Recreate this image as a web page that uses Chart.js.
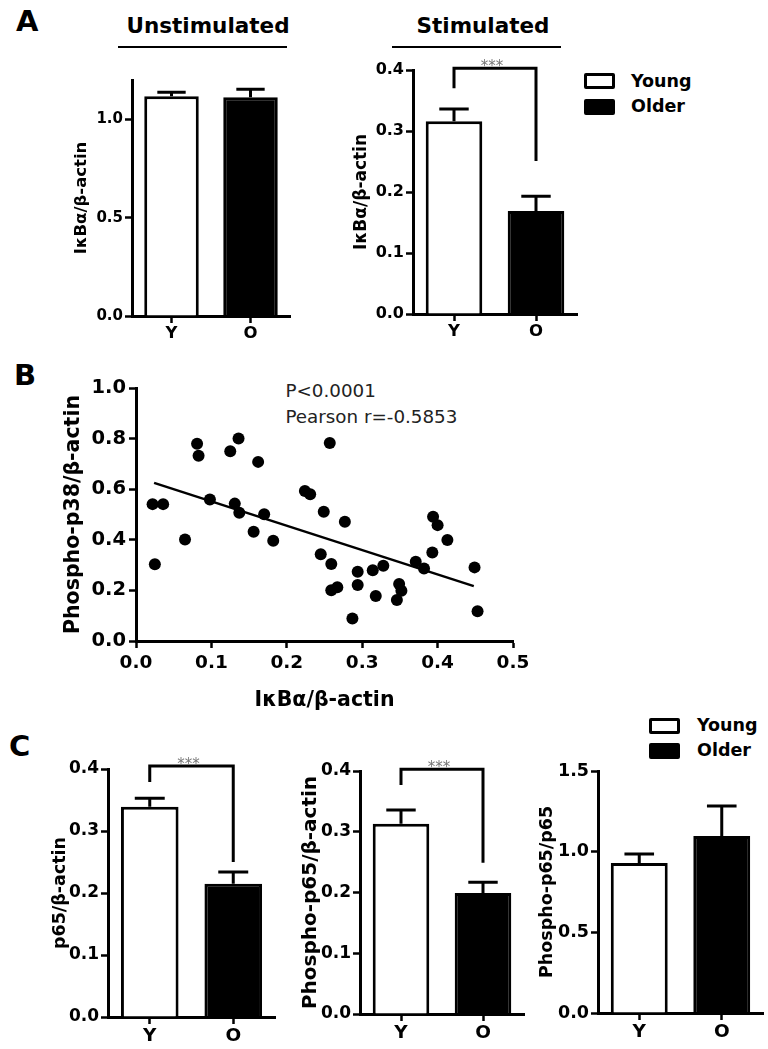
<!DOCTYPE html>
<html>
<head>
<meta charset="utf-8">
<script src="https://cdn.jsdelivr.net/npm/chart.js@4.4.1/dist/chart.umd.min.js"></script>
<style>
html, body { margin: 0; padding: 0; background: #fff; }
#page { position: relative; width: 768px; height: 1049px; overflow: hidden; font-family: 'DejaVu Sans', sans-serif; color: #000; }
.box { position: absolute; }
.letter { position: absolute; font-weight: bold; font-size: 29px; line-height: 1; }
.cond { position: absolute; font-weight: bold; font-size: 21.5px; line-height: 1; transform: translateX(-50%); white-space: nowrap; }
.rule { position: absolute; height: 0; border-top: 2.5px solid #000; }
.swatch { position: absolute; width: 31px; height: 16px; box-sizing: border-box; border: 3px solid #000; border-radius: 2px; }
.legtext { position: absolute; font-weight: bold; font-size: 17.5px; line-height: 1; }
.stat { position: absolute; font-size: 18.3px; line-height: 26px; color: #222; white-space: nowrap; }
</style>
</head>
<body>
<div id="page">
  <div class="letter" style="left:16px; top:7px;">A</div>
  <div class="letter" style="left:14px; top:361px;">B</div>
  <div class="letter" style="left:9px; top:732px;">C</div>

  <div class="cond" style="left:208px; top:14.5px;">Unstimulated</div>
  <div class="rule" style="left:118px; width:169px; top:46px;"></div>
  <div class="cond" style="left:483px; top:14.5px;">Stimulated</div>
  <div class="rule" style="left:392px; width:169px; top:46px;"></div>

  <div class="swatch" style="left:584px; top:73px; background:#fff;"></div>
  <div class="legtext" style="left:631px; top:72.5px;">Young</div>
  <div class="swatch" style="left:584px; top:99px; background:#000;"></div>
  <div class="legtext" style="left:631px; top:98px;">Older</div>

  <div class="swatch" style="left:649px; top:718px; background:#fff;"></div>
  <div class="legtext" style="left:697px; top:717px;">Young</div>
  <div class="swatch" style="left:649px; top:743px; background:#000;"></div>
  <div class="legtext" style="left:697px; top:742px;">Older</div>

  <div class="stat" style="left:285.5px; top:377.5px;">P&lt;0.0001<br>Pearson r=-0.5853</div>

  <div class="box" id="wrapA1"><canvas id="chartA1"></canvas></div>
  <div class="box" id="wrapA2"><canvas id="chartA2"></canvas></div>
  <div class="box" id="wrapB"><canvas id="chartB"></canvas></div>
  <div class="box" id="wrapC1"><canvas id="chartC1"></canvas></div>
  <div class="box" id="wrapC2"><canvas id="chartC2"></canvas></div>
  <div class="box" id="wrapC3"><canvas id="chartC3"></canvas></div>
</div>

<script>
// ─── Data ─────────────────────────────────────────────

const groups  = ['Y', 'O'];
const barFill = ['#ffffff', '#000000'];

const unstimMeans = [1.117, 1.112];
const unstimErrs  = [0.021, 0.041];

const stimMeans   = [0.316, 0.169];
const stimErrs    = [0.020, 0.024];
const stimBracket = [0.403, 0.370, 0.251];   // top, left leg end, right leg end

const p65Means    = [0.339, 0.215];
const p65Errs     = [0.014, 0.019];
const p65Bracket  = [0.405, 0.379, 0.250];

const pp65Means   = [0.313, 0.199];
const pp65Errs    = [0.023, 0.018];
const pp65Bracket = [0.403, 0.377, 0.249];

const ratioMeans  = [0.930, 1.097];
const ratioErrs   = [0.056, 0.186];

// IκBα vs phospho-p38 scatter
const ikbaX = [0.022, 0.036, 0.025, 0.065, 0.081, 0.083, 0.098, 0.125, 0.136, 0.131,
               0.137, 0.162, 0.156, 0.170, 0.182, 0.224, 0.231, 0.257, 0.249, 0.277,
               0.245, 0.259, 0.259, 0.267, 0.287, 0.294, 0.294, 0.314, 0.328, 0.318,
               0.349, 0.352, 0.346, 0.371, 0.382, 0.393, 0.394, 0.400, 0.413, 0.449, 0.453];
const p38Y  = [0.541, 0.541, 0.303, 0.401, 0.780, 0.732, 0.559, 0.750, 0.800, 0.543,
               0.507, 0.708, 0.432, 0.501, 0.396, 0.593, 0.580, 0.783, 0.511, 0.471,
               0.343, 0.304, 0.201, 0.212, 0.089, 0.274, 0.221, 0.280, 0.297, 0.178,
               0.225, 0.199, 0.162, 0.313, 0.287, 0.350, 0.491, 0.458, 0.399, 0.291, 0.118];
const fitX  = [0.024, 0.448];
const fitY  = [0.625, 0.217];

// ─── Plugins ──────────────────────────────────────────

const errorBarPlugin = {
    id: 'errorBars',
    afterDatasetsDraw(chart, args, opts) {
        if (!opts.values) return;
        const meta = chart.getDatasetMeta(0);
        const y = chart.scales.y;
        const ctx = chart.ctx;
        ctx.save();
        ctx.strokeStyle = '#000';
        ctx.lineWidth = 3;
        meta.data.forEach((bar, i) => {
            const v = chart.data.datasets[0].data[i];
            const top = y.getPixelForValue(v + opts.values[i]);
            const half = bar.width * 0.26;
            ctx.beginPath();
            ctx.moveTo(bar.x, bar.y);
            ctx.lineTo(bar.x, top);
            ctx.moveTo(bar.x - half, top);
            ctx.lineTo(bar.x + half, top);
            ctx.stroke();
        });
        ctx.restore();
    },
};

const bracketPlugin = {
    id: 'sigBracket',
    afterDatasetsDraw(chart, args, opts) {
        if (!opts.levels) return;
        const [topV, leftV, rightV] = opts.levels;
        const meta = chart.getDatasetMeta(0);
        const y = chart.scales.y;
        const x1 = meta.data[0].x, x2 = meta.data[1].x;
        const yt = y.getPixelForValue(topV);
        const ctx = chart.ctx;
        ctx.save();
        ctx.strokeStyle = '#000';
        ctx.lineWidth = 3;
        ctx.beginPath();
        ctx.moveTo(x1, y.getPixelForValue(leftV));
        ctx.lineTo(x1, yt);
        ctx.lineTo(x2, yt);
        ctx.lineTo(x2, y.getPixelForValue(rightV));
        ctx.stroke();
        ctx.fillStyle = '#777';
        ctx.font = '15px "DejaVu Sans"';
        ctx.textAlign = 'center';
        ctx.textBaseline = 'alphabetic';
        ctx.fillText('***', (x1 + x2) / 2 - 3, yt + 3);
        ctx.restore();
    },
};

// ─── Helpers ──────────────────────────────────────────

function place(wrapId, box) {
    const w = document.getElementById(wrapId);
    w.style.left = box.left + 'px';
    w.style.top = box.top + 'px';
    w.style.width = box.width + 'px';
    w.style.height = box.height + 'px';
}

function axisBase(tickSize) {
    return {
        grid:   { display: true, drawOnChartArea: false, drawTicks: true, tickLength: 7, tickWidth: 2.5, color: '#000' },
        border: { display: true, width: 3, color: '#000' },
        ticks:  { color: '#000', padding: 2, font: { family: "'DejaVu Sans'", weight: 'bold', size: tickSize } },
    };
}

function barChart(spec) {
    const { id, box, area } = spec;
    place('wrap' + id, box);
    const titleLh = spec.titleSize * 1.2;
    const yAxis = axisBase(spec.yTickSize);
    const xAxis = axisBase(spec.xTickSize);

    return new Chart(document.getElementById('chart' + id), {
        type: 'bar',
        data: {
            labels: groups,
            datasets: [{
                data: spec.means,
                backgroundColor: barFill,
                borderColor: '#000',
                borderWidth: 3,
                borderSkipped: 'start',
                barPercentage: 0.69,
                categoryPercentage: 1,
            }],
        },
        plugins: [errorBarPlugin, bracketPlugin],
        options: {
            responsive: true,
            maintainAspectRatio: false,
            animation: false,
            layout: { padding: { left: 0, bottom: 0, top: area.top - box.top, right: box.left + box.width - area.right } },
            plugins: {
                legend: { display: false },
                tooltip: { enabled: false },
                errorBars: { values: spec.errs },
                sigBracket: { levels: spec.bracket },
            },
            scales: {
                x: {
                    ...xAxis,
                    offset: true,
                    grid: { ...xAxis.grid, offset: false },
                    ticks: { ...xAxis.ticks, padding: 1 },
                    afterFit: s => { s.height = box.top + box.height - area.bottom; },
                },
                y: {
                    ...yAxis,
                    min: 0,
                    max: spec.yMax,
                    ticks: {
                        ...yAxis.ticks,
                        stepSize: spec.yStep,
                        includeBounds: false,
                        callback: v => v.toFixed(1),
                    },
                    title: {
                        display: true,
                        text: spec.yTitle,
                        color: '#000',
                        font: { family: "'DejaVu Sans'", weight: 'bold', size: spec.titleSize },
                        padding: { top: spec.titleX - box.left - titleLh / 2, bottom: 0 },
                    },
                    afterFit: s => { s.width = area.left - box.left; },
                },
            },
        },
    });
}

// ─── Panel A ──────────────────────────────────────────

barChart({
    id: 'A1',
    box:  { left: 50, top: 60, width: 260, height: 290 },
    area: { left: 132, top: 80, right: 290, bottom: 316 },
    means: unstimMeans, errs: unstimErrs,
    yMax: 1.2, yStep: 0.5,
    yTitle: 'IκBα/β-actin', titleSize: 16.5, titleX: 82,
    yTickSize: 15, xTickSize: 16.5,
});

barChart({
    id: 'A2',
    box:  { left: 340, top: 55, width: 250, height: 295 },
    area: { left: 413, top: 70, right: 577, bottom: 314 },
    means: stimMeans, errs: stimErrs, bracket: stimBracket,
    yMax: 0.4, yStep: 0.1,
    yTitle: 'IκBα/β-actin', titleSize: 17, titleX: 361.5,
    yTickSize: 16, xTickSize: 16.5,
});

// ─── Panel B ──────────────────────────────────────────

(function () {
    const box  = { left: 20, top: 370, width: 520, height: 350 };
    const area = { left: 136, top: 388, right: 513, bottom: 641 };
    place('wrapB', box);
    const titleSize = 20.5, lh = titleSize * 1.2;
    const xAxis = axisBase(18.5);
    const yAxis = axisBase(19.5);
    const titleFont = { family: "'DejaVu Sans'", weight: 'bold', size: titleSize };

    new Chart(document.getElementById('chartB'), {
        type: 'scatter',
        data: {
            datasets: [
                {
                    data: ikbaX.map((x, i) => ({ x, y: p38Y[i] })),
                    pointRadius: 6,
                    pointBackgroundColor: '#000',
                    pointBorderWidth: 0,
                },
                {
                    data: fitX.map((x, i) => ({ x, y: fitY[i] })),
                    showLine: true,
                    borderColor: '#000',
                    borderWidth: 2.5,
                    pointRadius: 0,
                },
            ],
        },
        options: {
            responsive: true,
            maintainAspectRatio: false,
            animation: false,
            layout: { padding: { left: 0, bottom: 0, top: area.top - box.top, right: box.left + box.width - area.right } },
            plugins: { legend: { display: false }, tooltip: { enabled: false } },
            scales: {
                x: {
                    ...xAxis,
                    type: 'linear',
                    min: 0, max: 0.5,
                    ticks: { ...xAxis.ticks, stepSize: 0.1, padding: 4, callback: v => v.toFixed(1) },
                    title: {
                        display: true, text: 'IκBα/β-actin', color: '#000', font: titleFont,
                        padding: { top: 0, bottom: 720 - 701 - lh / 2 },
                    },
                    afterFit: s => { s.height = box.top + box.height - area.bottom; },
                },
                y: {
                    ...yAxis,
                    min: 0, max: 1.0,
                    ticks: { ...yAxis.ticks, stepSize: 0.2, padding: 3, callback: v => v.toFixed(1) },
                    title: {
                        display: true, text: 'Phospho-p38/β-actin', color: '#000', font: titleFont,
                        padding: { top: 74 - box.left - lh / 2, bottom: 0 },
                    },
                    afterFit: s => { s.width = area.left - box.left; },
                },
            },
        },
    });
})();

// ─── Panel C ──────────────────────────────────────────

barChart({
    id: 'C1',
    box:  { left: 40, top: 750, width: 250, height: 299 },
    area: { left: 108, top: 769, right: 275, bottom: 1017 },
    means: p65Means, errs: p65Errs, bracket: p65Bracket,
    yMax: 0.4, yStep: 0.1,
    yTitle: 'p65/β-actin', titleSize: 17.5, titleX: 60,
    yTickSize: 17, xTickSize: 18.5,
});

barChart({
    id: 'C2',
    box:  { left: 290, top: 750, width: 245, height: 299 },
    area: { left: 360, top: 771, right: 524, bottom: 1014 },
    means: pp65Means, errs: pp65Errs, bracket: pp65Bracket,
    yMax: 0.4, yStep: 0.1,
    yTitle: 'Phospho-p65/β-actin', titleSize: 20, titleX: 311,
    yTickSize: 17, xTickSize: 18.5,
});

barChart({
    id: 'C3',
    box:  { left: 530, top: 750, width: 238, height: 299 },
    area: { left: 598, top: 771, right: 763, bottom: 1013 },
    means: ratioMeans, errs: ratioErrs,
    yMax: 1.5, yStep: 0.5,
    yTitle: 'Phospho-p65/p65', titleSize: 17.5, titleX: 547,
    yTickSize: 17.5, xTickSize: 18.5,
});
</script>
</body>
</html>
